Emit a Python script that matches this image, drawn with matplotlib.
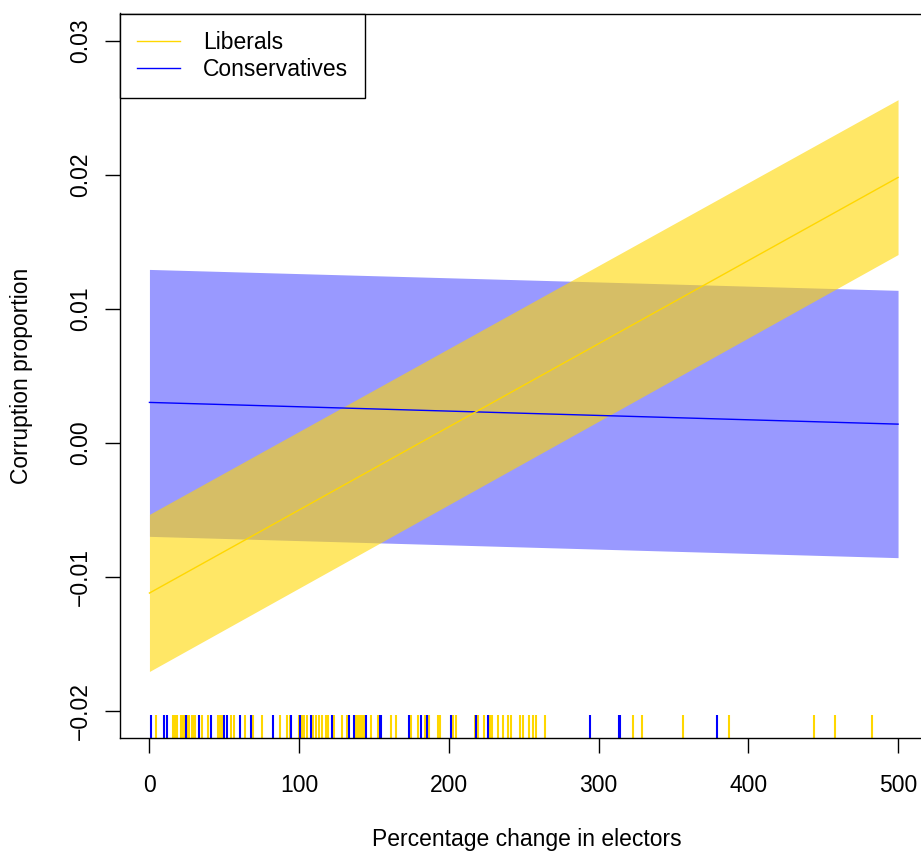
import numpy as np
import matplotlib
matplotlib.use("Agg")
import matplotlib.pyplot as plt

plt.rcParams['font.family'] = ['Liberation Sans', 'DejaVu Sans']

# Fitted lines and 95% bands at the ends of the electors range
x_ends = [0, 500]
lib_fit = [-0.01120, 0.01980]
lib_lo = [-0.01705, 0.01405]
lib_hi = [-0.00533, 0.02560]
con_fit = [0.00302, 0.00140]
con_lo = [-0.00697, -0.00856]
con_hi = [0.01294, 0.01138]

# Observed percentage changes in electors (rug)
lib_obs = [4.5, 15.4, 16.7, 18.0, 18.7, 21.4, 22.7, 23.4, 25.4, 26.7, 28.1, 29.4,
           30.1, 35.4, 38.8, 45.5, 46.8, 48.1, 48.8, 54.6, 56.8, 63.5, 68.9, 75.5,
           86.9, 91.6, 93.6, 99.6, 101.6, 102.9, 104.9, 109.0, 111.4, 113.0, 115.4,
           117.6, 119.0, 123.0, 128.3, 131.7, 137.0, 138.2, 139.0, 140.4, 141.7,
           143.0, 143.7, 147.7, 152.4, 161.6, 164.4, 174.9, 179.1, 183.8, 186.5,
           192.5, 194.3, 202.5, 205.0, 217.2, 219.3, 223.3, 227.3, 229.1, 232.6,
           236.0, 239.3, 241.3, 247.8, 249.5, 253.3, 256.5, 258.5, 264.0, 322.7,
           329.3, 356.3, 387.0, 443.9, 457.7, 482.4]
con_obs = [1.1, 9.4, 11.8, 24.5, 32.8, 41.2, 50.1, 52.1, 60.6, 68.0, 82.2, 94.7,
           100.3, 107.6, 122.1, 133.0, 136.6, 144.4, 153.7, 154.9, 173.1, 181.1,
           185.4, 201.7, 218.4, 225.9, 294.1, 313.5, 314.6, 378.8]

x_ticks = [0, 100, 200, 300, 400, 500]
y_ticks = [-0.02, -0.01, 0.00, 0.01, 0.02, 0.03]
y_tick_labels = ["\u22120.02", "\u22120.01", "0.00", "0.01", "0.02", "0.03"]

FS = 16.5

fig = plt.figure(figsize=(9.21, 8.51), dpi=100)
ax_h = 737.7 - 13.5
ax_w = 928 - 119.5
ax = fig.add_axes([119.5 / 921, 1 - 737.7 / 851, ax_w / 921, ax_h / 851])

ax.fill_between(x_ends, con_lo, con_hi, color='blue', alpha=0.4, linewidth=0)
con_line, = ax.plot(x_ends, con_fit, color='blue', linewidth=1.0)
ax.fill_between(x_ends, lib_lo, lib_hi, color='gold', alpha=0.6, linewidth=0)
lib_line, = ax.plot(x_ends, lib_fit, color='gold', linewidth=1.0)

trans = ax.get_xaxis_transform()
ax.vlines(lib_obs, 0, 0.032, transform=trans, color='gold', linewidth=1.5)
ax.vlines(con_obs, 0, 0.032, transform=trans, color='blue', linewidth=1.5)

ax.set_xlim(-20, 520)
ax.set_ylim(-0.02199, 0.03203)

ax.set_xticks(x_ticks)
ax.set_xticklabels([str(v) for v in x_ticks])
ax.set_yticks(y_ticks)
ax.set_yticklabels(y_tick_labels, rotation=90, va='center')
ax.tick_params(axis='both', direction='out', length=10.5, width=1.0,
               labelsize=FS, color='black')
ax.tick_params(axis='x', pad=15.5)
ax.tick_params(axis='y', pad=9.5)

for s in ax.spines.values():
    s.set_linewidth(1.0)
    s.set_color('black')

ax.set_xlabel("Percentage change in electors", fontsize=FS)
ax.set_ylabel("Corruption proportion", fontsize=FS)
ax.xaxis.set_label_coords((527 - 119.5) / ax_w, -(828 - 737.7) / ax_h)
ax.yaxis.set_label_coords(-(119.5 - 33) / ax_w, (737.7 - 376) / ax_h)

leg = ax.legend([lib_line, con_line], ["Liberals", "Conservatives"],
                loc='upper left', bbox_to_anchor=(0, 1), borderaxespad=0,
                fancybox=False, framealpha=1, edgecolor='black',
                fontsize=FS, handlelength=1.88, handletextpad=1.0,
                labelspacing=0.2, borderpad=0.75)
leg.get_frame().set_linewidth(1.0)

fig.savefig("out.png", dpi=100)
